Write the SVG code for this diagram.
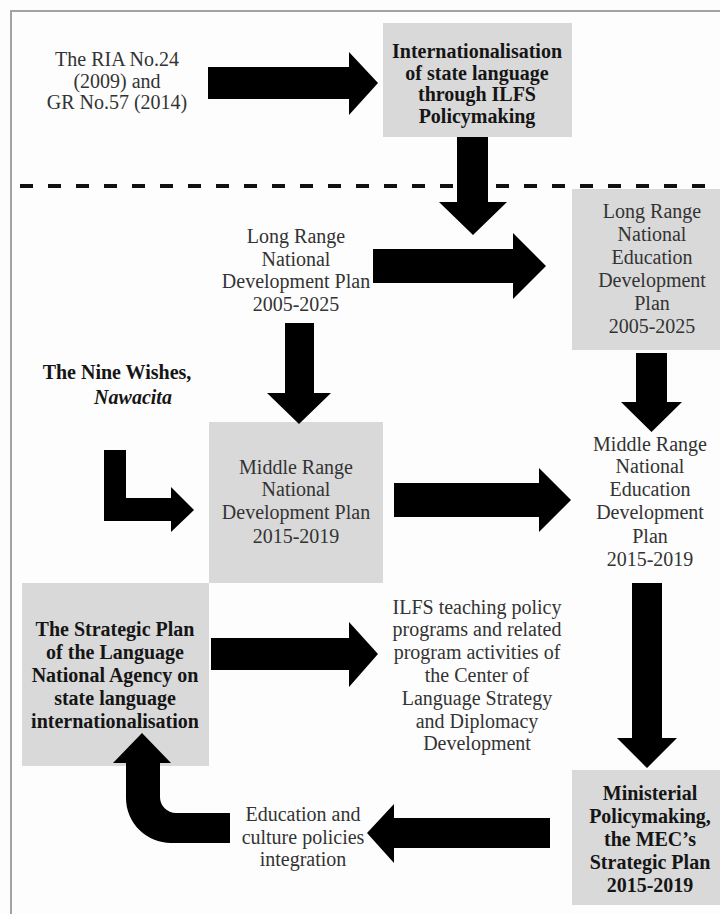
<svg xmlns="http://www.w3.org/2000/svg" width="720" height="914" viewBox="0 0 720 914">
  <style>
    .frame { fill: none; stroke: #a3a3a3; stroke-width: 2; }
    .box { fill: #d9d9d9; }
    .arrow { fill: #000; }
    .divider { stroke: #111; stroke-width: 4; stroke-dasharray: 13 15; }
    text { font-family: "Liberation Serif", "Times New Roman", serif; font-size: 20px; text-anchor: middle; }
    .reg { fill: #333; }
    .bold { fill: #151515; font-weight: bold; }
    .ital { font-style: italic; }
  </style>
  <rect width="720" height="914" fill="#fdfdfd"/>
  <path class="frame" d="M720,11 H11 V914"/>
  <line class="divider" x1="20" y1="186" x2="720" y2="186"/>

  <!-- nodes -->
  <g id="ria-gr">
    <text class="reg" x="117" y="66">The RIA No.24</text>
    <text class="reg" x="117" y="88">(2009) and</text>
    <text class="reg" x="117" y="109">GR No.57 (2014)</text>
  </g>
  <g id="ilfs-policymaking">
    <rect class="box" x="383" y="23" width="189" height="114"/>
    <text class="bold" x="477" y="58">Internationalisation</text>
    <text class="bold" x="477" y="79.5">of state language</text>
    <text class="bold" x="477" y="101">through ILFS</text>
    <text class="bold" x="477" y="122.5">Policymaking</text>
  </g>
  <g id="long-range-national">
    <text class="reg" x="296" y="243">Long Range</text>
    <text class="reg" x="296" y="265.5">National</text>
    <text class="reg" x="296" y="288">Development Plan</text>
    <text class="reg" x="296" y="310.5">2005-2025</text>
  </g>
  <g id="long-range-education">
    <rect class="box" x="572" y="189" width="148" height="161"/>
    <text class="reg" x="652" y="218">Long Range</text>
    <text class="reg" x="652" y="241">National</text>
    <text class="reg" x="652" y="264">Education</text>
    <text class="reg" x="652" y="287">Development</text>
    <text class="reg" x="652" y="310">Plan</text>
    <text class="reg" x="652" y="333">2005-2025</text>
  </g>
  <g id="nine-wishes">
    <text class="bold" x="117" y="379">The Nine Wishes,</text>
    <text class="bold ital" x="133" y="404">Nawacita</text>
  </g>
  <g id="middle-range-national">
    <rect class="box" x="209" y="422" width="174" height="161"/>
    <text class="reg" x="296" y="474">Middle Range</text>
    <text class="reg" x="296" y="496">National</text>
    <text class="reg" x="296" y="519">Development Plan</text>
    <text class="reg" x="296" y="543">2015-2019</text>
  </g>
  <g id="middle-range-education">
    <text class="reg" x="650" y="451">Middle Range</text>
    <text class="reg" x="650" y="473">National</text>
    <text class="reg" x="650" y="496">Education</text>
    <text class="reg" x="650" y="519">Development</text>
    <text class="reg" x="650" y="543">Plan</text>
    <text class="reg" x="650" y="566">2015-2019</text>
  </g>
  <g id="strategic-plan">
    <rect class="box" x="22" y="583" width="187" height="183"/>
    <text class="bold" x="115" y="636">The Strategic Plan</text>
    <text class="bold" x="115" y="659">of the Language</text>
    <text class="bold" x="115" y="682">National Agency on</text>
    <text class="bold" x="115" y="705">state language</text>
    <text class="bold" x="115" y="728">internationalisation</text>
  </g>
  <g id="ilfs-teaching">
    <text class="reg" x="477" y="614">ILFS teaching policy</text>
    <text class="reg" x="477" y="636">programs and related</text>
    <text class="reg" x="477" y="659">program activities of</text>
    <text class="reg" x="477" y="682">the Center of</text>
    <text class="reg" x="477" y="705">Language Strategy</text>
    <text class="reg" x="477" y="728">and Diplomacy</text>
    <text class="reg" x="477" y="750">Development</text>
  </g>
  <g id="ministerial">
    <rect class="box" x="572" y="770" width="148" height="135"/>
    <text class="bold" x="650" y="800">Ministerial</text>
    <text class="bold" x="650" y="823">Policymaking,</text>
    <text class="bold" x="650" y="846">the MEC’s</text>
    <text class="bold" x="650" y="869">Strategic Plan</text>
    <text class="bold" x="650" y="892">2015-2019</text>
  </g>
  <g id="education-culture">
    <text class="reg" x="303" y="821">Education and</text>
    <text class="reg" x="303" y="844">culture policies</text>
    <text class="reg" x="303" y="866">integration</text>
  </g>

  <!-- connectors: block arrows -->
  <g id="connectors" class="arrow">
    <path d="M208,67 H349 V52 L378,83 L349,115 V99 H208 Z"/>
    <path d="M457,137 V202 H439 L473,235 L507,202 H488 V137 Z"/>
    <path d="M373,249 H513 V233 L546,266 L513,299 V283 H373 Z"/>
    <path d="M285,323 V393 H267 L299,424 L331,393 H314 V323 Z"/>
    <path d="M636,353 V402 H621 L651.5,432 L682,402 H667 V353 Z"/>
    <path d="M104,450 H126 V498 H171 V487 L194,510 L171,532 V521 H104 Z"/>
    <path d="M394,483 H539 V468 L571,500 L539,532 V517 H394 Z"/>
    <path d="M632,583 V738 H617 L647,768 L677,738 H662 V583 Z"/>
    <path d="M211,638 H349 V622 L378,654 L349,687 V670 H211 Z"/>
    <path d="M550,818 H394 V804 L367,833 L394,863 V848 H550 Z"/>
    <path d="M126,763 V798 A45,45 0 0 0 171,843 H230 V813 H176 A16,16 0 0 1 160,797 V763 H171 L142,733 L113,763 Z"/>
  </g>
</svg>
